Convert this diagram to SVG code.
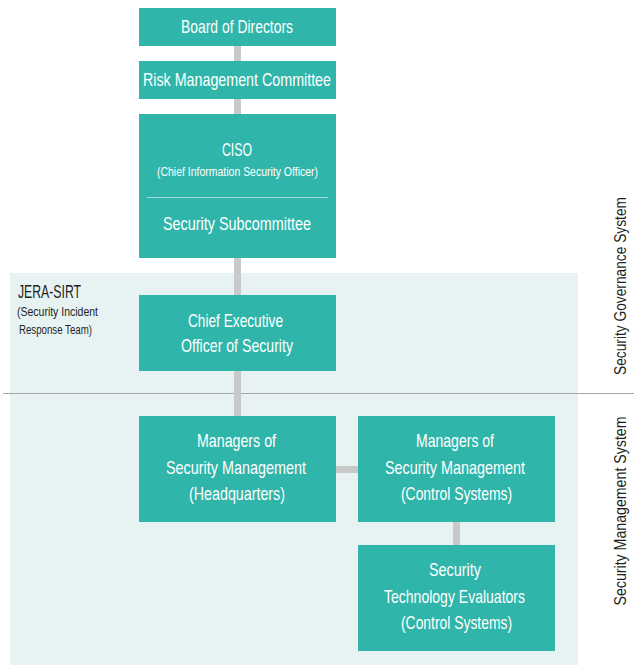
<svg xmlns="http://www.w3.org/2000/svg" width="634" height="669" viewBox="0 0 634 669">
<style>
.box{fill:#2fb5a9}
.t{font-family:"Liberation Sans Narrow","Liberation Sans",sans-serif;fill:#fff;text-anchor:middle;font-size:19px}
.s{font-size:12.5px}
.k{font-family:"Liberation Sans Narrow","Liberation Sans",sans-serif;fill:#231f20;font-size:13.5px}
.c{stroke:#c9c9c9;stroke-width:7;fill:none}
</style>
<rect x="0" y="0" width="634" height="669" fill="#fff"/>
<rect x="10" y="273" width="568" height="392" fill="#e7f3f3"/>
<line x1="3" y1="393.5" x2="634" y2="393.5" stroke="#a6a6a6" stroke-width="1"/>
<g id="connectors">
<line class="c" x1="237.5" y1="45" x2="237.5" y2="416"/>
<line class="c" x1="336" y1="469.5" x2="358" y2="469.5"/>
<line class="c" x1="456.5" y1="522" x2="456.5" y2="545"/>
</g>
<g id="board">
<rect class="box" x="139" y="8" width="197" height="38"/>
<text class="t" x="237" y="33" textLength="112" lengthAdjust="spacingAndGlyphs">Board of Directors</text>
</g>
<g id="risk">
<rect class="box" x="139" y="61" width="197" height="38"/>
<text class="t" x="237" y="86" textLength="188" lengthAdjust="spacingAndGlyphs">Risk Management Committee</text>
</g>
<g id="ciso">
<rect class="box" x="139" y="114" width="197" height="144"/>
<text class="t" x="237" y="156" textLength="30" lengthAdjust="spacingAndGlyphs">CISO</text>
<text class="t s" x="237.5" y="176" textLength="161" lengthAdjust="spacingAndGlyphs">(Chief Information Security Officer)</text>
<line x1="147" y1="197.5" x2="328" y2="197.5" stroke="#a3ddd6" stroke-width="1"/>
<text class="t" x="237" y="230" textLength="148" lengthAdjust="spacingAndGlyphs">Security Subcommittee</text>
</g>
<g id="jera-sirt">
<text class="k" x="18" y="298" style="font-size:18px" textLength="63" lengthAdjust="spacingAndGlyphs">JERA-SIRT</text>
<text class="k" x="17" y="316" textLength="81" lengthAdjust="spacingAndGlyphs">(Security Incident</text>
<text class="k" x="19" y="334" textLength="73" lengthAdjust="spacingAndGlyphs">Response Team)</text>
</g>
<g id="ceo-security">
<rect class="box" x="139" y="295" width="197" height="76"/>
<text class="t" x="235.5" y="327" textLength="95" lengthAdjust="spacingAndGlyphs">Chief Executive</text>
<text class="t" x="237" y="352" textLength="112" lengthAdjust="spacingAndGlyphs">Officer of Security</text>
</g>
<g id="mgr-hq">
<rect class="box" x="139" y="416" width="197" height="106"/>
<text class="t" x="236.5" y="447" textLength="79" lengthAdjust="spacingAndGlyphs">Managers of</text>
<text class="t" x="236" y="474" textLength="140" lengthAdjust="spacingAndGlyphs">Security Management</text>
<text class="t" x="237" y="500" textLength="96" lengthAdjust="spacingAndGlyphs">(Headquarters)</text>
</g>
<g id="mgr-cs">
<rect class="box" x="358" y="416" width="197" height="106"/>
<text class="t" x="455" y="447" textLength="78" lengthAdjust="spacingAndGlyphs">Managers of</text>
<text class="t" x="455" y="474" textLength="140" lengthAdjust="spacingAndGlyphs">Security Management</text>
<text class="t" x="456.5" y="500" textLength="111" lengthAdjust="spacingAndGlyphs">(Control Systems)</text>
</g>
<g id="tech-eval">
<rect class="box" x="358" y="545" width="197" height="106"/>
<text class="t" x="455" y="576" textLength="52" lengthAdjust="spacingAndGlyphs">Security</text>
<text class="t" x="454.5" y="603" textLength="141" lengthAdjust="spacingAndGlyphs">Technology Evaluators</text>
<text class="t" x="456.5" y="629" textLength="111" lengthAdjust="spacingAndGlyphs">(Control Systems)</text>
</g>
<g id="side-labels">
<text class="k" style="font-size:17px" text-anchor="middle" transform="translate(626 286) rotate(-90)" textLength="178" lengthAdjust="spacingAndGlyphs">Security Governance System</text>
<text class="k" style="font-size:17px" text-anchor="middle" transform="translate(626 511) rotate(-90)" textLength="189" lengthAdjust="spacingAndGlyphs">Security Management System</text>
</g>
</svg>
